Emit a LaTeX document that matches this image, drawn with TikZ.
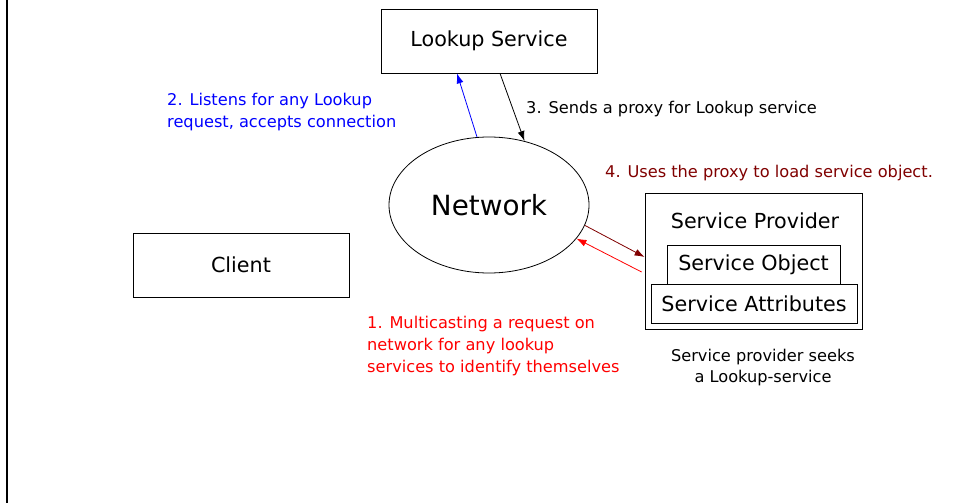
\documentclass[tikz,border=0pt]{standalone}
\usepackage{fontspec}
\setmainfont{DejaVu Sans}
\usetikzlibrary{arrows.meta,shapes.geometric}
\definecolor{darkred}{RGB}{128,0,0}

\begin{document}
\begin{tikzpicture}[x=1pt, y=-1pt,
  box/.style={draw, line width=0.8pt, inner sep=0pt, font=\fontsize{20.7}{24}\selectfont},
  note/.style={inner sep=0pt, align=left, font=\fontsize{16.2}{22}\selectfont},
  conn/.style={-{Latex[length=10pt,width=7pt]}, line width=0.8pt}]
  \useasboundingbox (0,0) rectangle (957,503);
  \draw[line width=2pt] (6.5,0) -- (6.5,503);
  % the boxes
  \node[box, minimum width=216pt, minimum height=64pt] (lookup) at (489,41) {Lookup Service};
  \node[box, minimum width=216pt, minimum height=64pt] (client) at (241,265) {Client};
  \node[draw, ellipse, line width=0.8pt, minimum width=200pt, minimum height=136pt, inner sep=0pt,
        font=\fontsize{27.8}{32}\selectfont] (net) at (489,205) {Network};
  \node[box, minimum width=217pt, minimum height=136pt] (sp) at (753.5,261) {};
  \node[font=\fontsize{20.7}{24}\selectfont, inner sep=0pt] (sptitle) at (755,221) {Service Provider};
  \node[box, minimum width=173pt, minimum height=39pt] (sobj) at (753.5,264.5) {Service Object};
  \node[box, minimum width=206pt, minimum height=39pt] (sattr) at (754,303.5) {Service Attributes};
  % the messages
  \path[conn]
    (net.100) edge[blue] ([xshift=-32pt]lookup.south)
    ([xshift=11pt]lookup.south) edge (net.61.6)
    (net.-12.5) edge[darkred] ([yshift=4pt]sp.west)
    ([xshift=-3pt,yshift=-11pt]sp.west) edge[red] (net.-21);
  \node[note, blue, anchor=north west] (listens) at (167,92.7) {2. Listens for any Lookup\\request, accepts connection};
  \node[note, anchor=base west] (sends) at (526,113) {3. Sends a proxy for Lookup service};
  \node[note, darkred, anchor=base west] (uses) at (605,177) {4. Uses the proxy to load service object.};
  \node[note, red, anchor=north west] (multi) at (367,315.7) {1. Multicasting a request on\\network for any lookup\\services to identify themselves};
  \node[note, align=center, anchor=north, font=\fontsize{16.2}{21}\selectfont] (seeks) at (763,348.7) {Service provider seeks\\a Lookup-service};
\end{tikzpicture}
\end{document}
